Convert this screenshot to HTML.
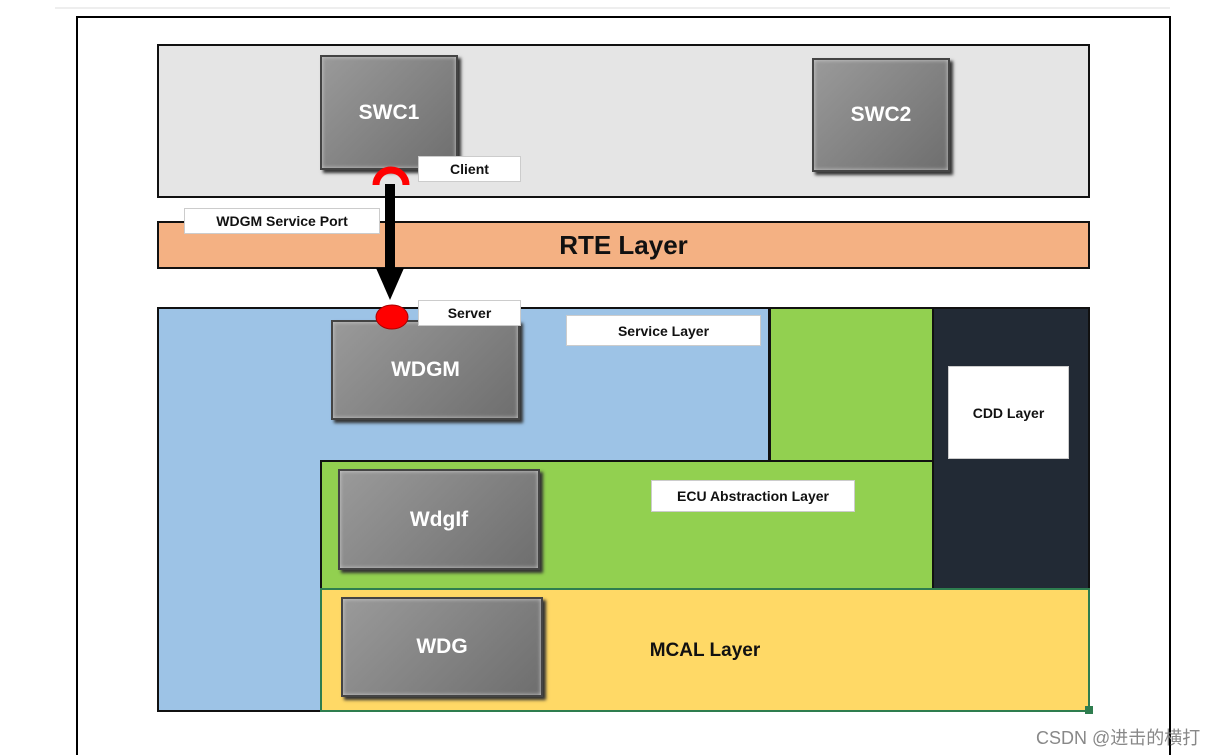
<!DOCTYPE html>
<html><head><style>
html,body{margin:0;width:1224px;height:755px;overflow:hidden;}
body{background:#fff;position:relative;font-family:"Liberation Sans","Noto Sans CJK SC",sans-serif;}
div{position:absolute;box-sizing:border-box;}
.box{background:linear-gradient(135deg,#9a9a9a,#6e6e6e);border:2px solid #444;box-shadow:3px 3px 3px #333, inset 0 0 4px #ccc;color:#fff;font-weight:bold;font-size:21px;display:flex;align-items:center;justify-content:center;}
.lbl{background:#fff;border:1px solid #ccc;font-weight:bold;font-size:14px;display:flex;align-items:center;justify-content:center;color:#111;}
</style></head><body>
<div style="left:55px;top:7px;width:1115px;height:2px;background:#eee"></div>
<div style="left:76px;top:16px;width:1095px;height:739px;border:2px solid #000;border-bottom:none"></div>
<div style="left:157px;top:44px;width:933px;height:154px;background:#e5e5e5;border:2px solid #111"></div>
<div class="box" style="left:320px;top:55px;width:138px;height:115px">SWC1</div>
<div class="box" style="left:812px;top:58px;width:138px;height:114px">SWC2</div>
<div style="left:157px;top:221px;width:933px;height:48px;background:#f4b183;border:2px solid #111;font-weight:bold;font-size:26px;display:flex;align-items:center;justify-content:center;color:#111">RTE Layer</div>
<div class="lbl" style="left:418px;top:156px;width:103px;height:26px">Client</div>
<div class="lbl" style="left:184px;top:208px;width:196px;height:26px">WDGM Service Port</div>
<div style="left:157px;top:307px;width:933px;height:405px;background:#9dc3e6;border:2px solid #111"></div>
<div style="left:770px;top:309px;width:162px;height:280px;background:#92d050"></div>
<div style="left:320px;top:460px;width:612px;height:129px;background:#92d050;border-left:2px solid #111;border-top:2px solid #111"></div>
<div style="left:768px;top:309px;width:3px;height:153px;background:#111"></div>
<div style="left:932px;top:309px;width:156px;height:280px;background:#222a35;border-left:2px solid #111"></div>
<div style="left:320px;top:588px;width:770px;height:124px;background:#ffd966;border:2px solid #2e7d4f"></div>
<div style="left:1085px;top:706px;width:8px;height:8px;background:#2e7d4f"></div>
<div class="box" style="left:331px;top:320px;width:189px;height:100px">WDGM</div>
<div class="box" style="left:338px;top:469px;width:202px;height:101px">WdgIf</div>
<div class="box" style="left:341px;top:597px;width:202px;height:100px">WDG</div>
<div class="lbl" style="left:418px;top:300px;width:103px;height:26px">Server</div>
<div class="lbl" style="left:566px;top:315px;width:195px;height:31px">Service Layer</div>
<div class="lbl" style="left:948px;top:366px;width:121px;height:93px">CDD Layer</div>
<div class="lbl" style="left:651px;top:480px;width:204px;height:32px">ECU Abstraction Layer</div>
<div style="left:600px;top:640px;width:210px;height:26px;font-weight:bold;font-size:19px;color:#111;text-align:center">MCAL Layer</div>
<svg style="position:absolute;left:0;top:0" width="1224" height="755">
<rect x="385" y="184" width="10" height="86" fill="#000"/>
<polygon points="376,268 404,268 390,300" fill="#000"/>
<path d="M376,185 A15,15 0 0 1 406,185" fill="none" stroke="#f00" stroke-width="7"/>
<ellipse cx="392" cy="317" rx="16" ry="12" fill="#f00" stroke="#a00"/>
</svg>
<div style="left:1036px;top:724px;font-size:18px;color:#888;white-space:nowrap">CSDN @进击的横打</div>
</body></html>
